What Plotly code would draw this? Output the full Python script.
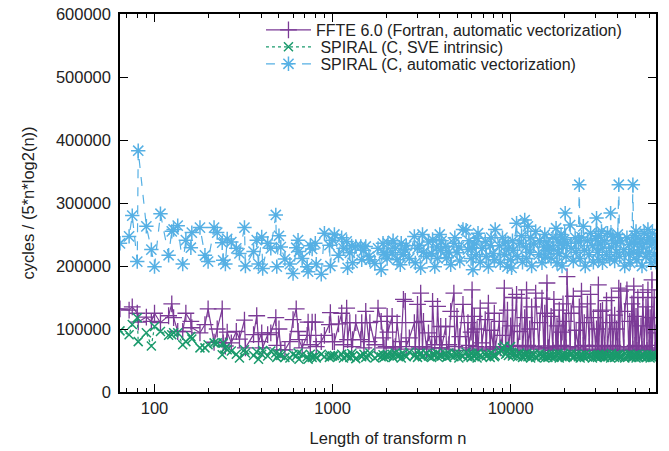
import plotly.graph_objects as go

# transform sizes n = 2^a 3^b 5^c between 64 and 65536
n_sizes = [
    64, 72, 75, 80, 81, 90, 96, 100, 108, 120, 125,
    128, 135, 144, 150, 160, 162, 180, 192, 200, 216, 225, 240, 243, 250,
    256, 270, 288, 300, 320, 324, 360, 375, 384, 400, 405, 432, 450, 480, 486, 500,
    512, 540, 576, 600, 625, 640, 648, 675, 720, 729, 750, 768, 800, 810, 864, 900, 960, 972, 1000,
    1024, 1080, 1125, 1152, 1200, 1215, 1250, 1280, 1296, 1350, 1440, 1458, 1500, 1536, 1600, 1620,
    1728, 1800, 1875, 1920, 1944, 2000, 2025,
    2048, 2160, 2187, 2250, 2304, 2400, 2430, 2500, 2560, 2592, 2700, 2880, 2916, 3000, 3072, 3125,
    3200, 3240, 3375, 3456, 3600, 3645, 3750, 3840, 3888, 4000, 4050,
    4096, 4320, 4374, 4500, 4608, 4800, 4860, 5000, 5120, 5184, 5400, 5625, 5760, 5832, 6000, 6075,
    6144, 6250, 6400, 6480, 6561, 6750, 6912, 7200, 7290, 7500, 7680, 7776, 8000, 8100,
    8192, 8640, 8748, 9000, 9216, 9375, 9600, 9720, 10000, 10125, 10240, 10368, 10800, 10935, 11250,
    11520, 11664, 12000, 12150, 12288, 12500, 12800, 12960, 13122, 13500, 13824, 14400, 14580, 15000,
    15360, 15552, 15625, 16000, 16200,
    16384, 16875, 17280, 17496, 18000, 18225, 18432, 18750, 19200, 19440, 19683, 20000, 20250, 20480,
    20736, 21600, 21870, 22500, 23040, 23328, 24000, 24300, 24576, 25000, 25600, 25920, 26244, 27000,
    27648, 28125, 28800, 29160, 30000, 30375, 30720, 31104, 31250, 32000, 32400,
    32768, 32805, 33750, 34560, 34992, 36000, 36450, 36864, 37500, 38400, 38880, 39366, 40000, 40500,
    40960, 41472, 43200, 43740, 45000, 46080, 46656, 46875, 48000, 48600, 49152, 50000, 50625, 51200,
    51840, 52488, 54000, 54675, 55296, 56250, 57600, 58320, 59049, 60000, 60750, 61440, 62208, 62500,
    64000, 64800, 65536,
]

# cycles / (5 n log2 n), in thousands
ffte_k = [
    132, 130, 135, 125, 111, 119, 112, 125, 110, 121, 140,
    118, 96, 96, 125, 112, 102, 94, 107, 132, 79, 100, 132, 78, 73,
    95, 78, 96, 84, 114, 70, 91, 121, 80, 94, 70, 91, 94, 118, 74, 100,
    67, 67, 80, 115, 132, 96, 83, 70, 90, 111, 75, 111, 111, 72, 80, 90, 107, 126, 80,
    80, 108, 125, 75, 133, 83, 110, 72, 83, 110, 83, 110, 70, 128, 80, 110, 75, 133, 112, 86, 70, 72, 120,
    95, 120, 70, 72, 110, 68, 80, 147, 144, 72, 86, 110, 68, 139, 70, 157, 72, 112, 68, 94, 70, 144, 75,
    88, 136, 70, 104,
    70, 104, 68, 75, 128, 157, 72, 120, 66, 88, 139, 70, 110, 74, 95, 162, 68, 120, 72, 100, 66, 133, 78,
    115, 70, 141, 68, 98, 72, 125,
    68, 112, 70, 90, 165, 72, 130, 66, 105, 74, 150, 68, 155, 72, 96, 149, 66, 118, 70, 162, 74, 100, 68,
    135, 72, 157, 70, 110, 149, 68, 125, 73, 173, 70,
    70, 120, 66, 147, 72, 105, 68, 130, 74, 95, 140, 68, 112, 70, 183, 72, 125, 152, 66, 98, 70, 135, 68,
    160, 74, 110, 66, 140, 72, 155, 68, 118, 74, 100, 66, 170, 72, 128, 68,
    72, 130, 66, 145, 70, 110, 68, 150, 74, 122, 66, 100, 72, 165, 68, 160, 70, 128, 162, 66, 112, 72, 140,
    68, 168, 74, 120, 66, 150, 70, 105, 68, 158, 72, 135, 66, 162, 70, 118, 68, 178, 74, 150, 66, 94,
]

spiral_sve_k = [
    97, 91, 107, 118, 80, 94, 73, 104, 96, 90, 91,
    94, 94, 75, 80, 88, 84, 70, 70, 75, 78, 78, 59, 78, 70,
    67, 65, 60, 54, 67, 62, 58, 64, 52, 60, 66, 57, 65, 62, 55, 60,
    58, 55, 54, 60, 57, 62, 52, 59, 56, 52, 60, 55, 57, 54, 60, 56, 55, 58, 57,
    58, 56, 60, 54, 57, 59, 55, 61, 57, 53, 58, 56, 60, 55, 57, 62, 54, 58, 56, 59, 55, 57, 60,
    58, 60, 55, 62, 57, 59, 54, 61, 58, 56, 63, 57, 60, 55, 59, 62, 56, 58, 61, 57, 55, 60, 58, 62, 56,
    59, 57,
    57, 60, 55, 62, 58, 56, 61, 59, 54, 60, 57, 63, 56, 59, 55, 61, 58, 57, 60, 54, 62, 58, 56, 60, 57,
    59, 55, 61, 58, 56,
    58, 62, 66, 70, 73, 60, 65, 58, 72, 63, 57, 61, 59, 56, 62, 58, 55, 60, 57, 61, 56, 59, 54, 58, 60,
    55, 57, 61, 56, 58, 54, 59, 57, 55,
    58, 56, 60, 55, 59, 57, 61, 54, 58, 56, 60, 57, 55, 59, 56, 58, 61, 55, 57, 60, 56, 58, 54, 59, 57,
    55, 60, 56, 58, 57, 54, 59, 56, 58, 55, 60, 57, 56, 58,
    57, 59, 55, 60, 56, 58, 54, 61, 57, 55, 59, 56, 58, 60, 55, 57, 59, 54, 58, 56, 60, 57, 55, 58, 56,
    59, 54, 57, 60, 55, 58, 56, 59, 57, 55, 60, 56, 58, 54, 57, 59, 55, 58, 56, 57,
]

spiral_auto_k = [
    236, 247, 280, 207, 383, 263, 226, 199, 283, 217, 255,
    258, 264, 203, 241, 229, 253, 261, 217, 207, 261, 253, 237, 209, 203,
    243, 238, 228, 220, 261, 200, 223, 241, 203, 246, 196, 236, 228, 281, 199, 248,
    230, 211, 203, 188, 229, 241, 223, 212, 199, 191, 232, 227, 236, 203, 187, 252, 233, 200, 241,
    250, 217, 245, 228, 239, 197, 221, 232, 205, 231, 231, 210, 225, 231, 215, 210, 204, 228, 194, 236,
    221, 218, 212,
    236, 221, 240, 228, 210, 202, 236, 218, 226, 232, 212, 247, 205, 228, 233, 197, 250, 222, 215, 238,
    220, 242, 199, 230, 212, 250, 225,
    240, 231, 213, 222, 202, 236, 245, 221, 230, 208, 258, 257, 226, 240, 212, 229, 194, 235, 218, 244,
    252, 206, 228, 239, 215, 199, 232, 245, 220, 210,
    258, 232, 205, 245, 218, 238, 199, 228, 210, 197, 240, 225, 268, 215, 236, 248, 206, 273, 230, 212,
    263, 222, 245, 200, 235, 255, 218, 240, 205, 230, 250, 214, 238, 225,
    232, 212, 245, 226, 260, 205, 238, 220, 250, 200, 232, 242, 284, 215, 236, 265, 228, 208, 245, 222,
    238, 329, 212, 246, 263, 225, 200, 240, 218, 252, 232, 206, 244, 276, 222, 248, 210, 235, 255,
    228, 205, 240, 218, 252, 212, 284, 230, 246, 208, 236, 222, 250, 329, 215, 240, 226, 200, 245, 219,
    234, 205, 238, 329, 222, 248, 255, 210, 236, 220, 242, 200, 230, 252, 215, 238, 258, 222, 245, 205,
    235, 252, 218, 240, 206,
]

assert len(n_sizes) == len(ffte_k) == len(spiral_sve_k) == len(spiral_auto_k)

font = "Liberation Sans, Arial, sans-serif"

fig = go.Figure()
fig.add_trace(go.Scatter(
    x=n_sizes, y=[v * 1000 for v in ffte_k], mode="lines+markers",
    name="FFTE 6.0 (Fortran, automatic vectorization)", legend="legend",
    line=dict(color="#7b3a96", width=1.2),
    marker=dict(symbol="cross-thin-open", size=12, line=dict(color="#7b3a96", width=1.3)),
))
fig.add_trace(go.Scatter(
    x=n_sizes, y=[v * 1000 for v in spiral_sve_k], mode="lines+markers",
    name="\u00a0SPIRAL (C, SVE intrinsic)", legend="legend2",
    line=dict(color="#1a9a6c", width=1.2, dash="dot"),
    marker=dict(symbol="x-thin-open", size=9, line=dict(color="#1a9a6c", width=1.5)),
))
fig.add_trace(go.Scatter(
    x=n_sizes, y=[v * 1000 for v in spiral_auto_k], mode="lines+markers",
    name="\u00a0SPIRAL (C, automatic vectorization)", legend="legend3",
    line=dict(color="#56b0e4", width=1.2, dash="dash"),
    marker=dict(symbol="asterisk-open", size=12, line=dict(color="#56b0e4", width=1.5)),
))

leg = dict(x=0.263, xanchor="left", yanchor="middle", itemwidth=45,
           bgcolor="rgba(0,0,0,0)", font=dict(size=16))

fig.update_layout(
    width=669, height=451,
    margin=dict(l=120, r=13, t=14, b=59),
    plot_bgcolor="white", paper_bgcolor="white",
    font=dict(family=font, size=16.5, color="#222222"),
    showlegend=True,
    legend=dict(leg, y=0.958),
    legend2=dict(leg, y=0.913),
    legend3=dict(leg, y=0.868),
)
fig.update_xaxes(
    type="log", range=[1.80618, 4.81648], automargin=False,
    tickvals=[100, 1000, 10000], ticktext=["100", "1000", "10000"],
    ticks="inside", ticklen=8, tickcolor="black", tickwidth=1,
    minor=dict(ticks="inside", ticklen=4, tickcolor="black",
               tickvals=[70, 80, 90, 200, 300, 400, 500, 600, 700, 800, 900,
                         2000, 3000, 4000, 5000, 6000, 7000, 8000, 9000,
                         20000, 30000, 40000, 50000, 60000]),
    showline=True, linecolor="black", linewidth=1.5, mirror="ticks",
    showgrid=False, zeroline=False,
    title=dict(text="Length of transform n", standoff=17, font=dict(size=16.5)),
)
fig.update_yaxes(
    range=[0, 600000], dtick=100000, tickformat="d", automargin=False,
    ticks="inside", ticklen=8, tickcolor="black", tickwidth=1, ticklabelstandoff=4,
    showline=True, linecolor="black", linewidth=1.5, mirror="ticks",
    showgrid=False, zeroline=False,
    title=dict(text="cycles / (5*n*log2(n))", standoff=17, font=dict(size=16.5)),
)

# drop the page's default 8px body margin so the figure fills the window
fig.write_html("out.html", config={"displayModeBar": False},
               post_script="document.body.style.margin='0';")
